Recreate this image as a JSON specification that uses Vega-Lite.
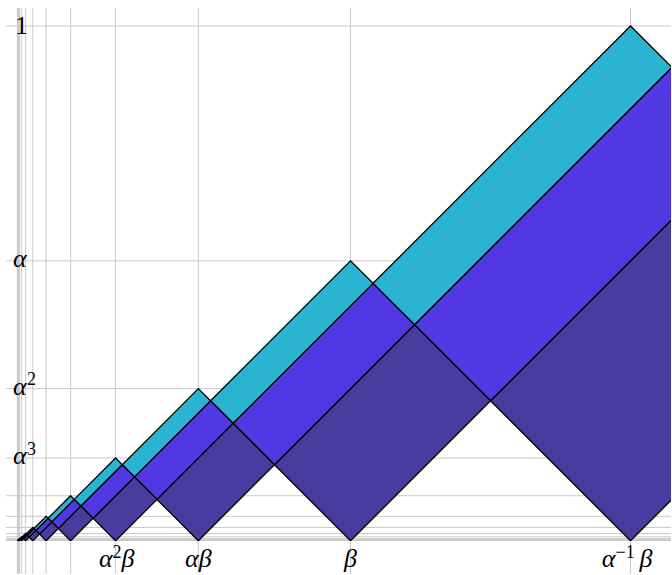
{
  "$schema": "https://vega.github.io/schema/vega-lite/v6.json",
  "width": 672,
  "height": 575,
  "autosize": {"type": "fit", "contains": "padding"},
  "padding": 0,
  "background": "white",
  "view": {"stroke": null},
  "datasets": {
    "vgrid": [{"v":1.19149},{"v":0.6478},{"v":0.3522},{"v":0.19149},{"v":0.10411},{"v":0.0566},{"v":0.03077},{"v":0.01673},{"v":0.0091},{"v":0.00495},{"v":0.00269},{"v":0.00146},{"v":0.0008}],
    "hgrid": [{"v":1},{"v":0.54369},{"v":0.2956},{"v":0.16071},{"v":0.08738},{"v":0.04751},{"v":0.02583},{"v":0.01404},{"v":0.00763},{"v":0.00415},{"v":0.00226},{"v":0.00123},{"v":0.00067}],
    "poly": [
      {"id":"0d","b":"d","i":0,"x":1.19149,"y":0},{"id":"0d","b":"d","i":1,"x":1.69149,"y":0.5},{"id":"0d","b":"d","i":2,"x":1.41964,"y":0.77184},{"id":"0d","b":"d","i":3,"x":0.91964,"y":0.27184},{"id":"0d","b":"d","i":4,"x":1.19149,"y":0},
      {"id":"0b","b":"b","i":0,"x":0.91964,"y":0.27184},{"id":"0b","b":"b","i":1,"x":1.41964,"y":0.77184},{"id":"0b","b":"b","i":2,"x":1.27184,"y":0.91964},{"id":"0b","b":"b","i":3,"x":0.77184,"y":0.41964},{"id":"0b","b":"b","i":4,"x":0.91964,"y":0.27184},
      {"id":"0c","b":"c","i":0,"x":0.77184,"y":0.41964},{"id":"0c","b":"c","i":1,"x":1.27184,"y":0.91964},{"id":"0c","b":"c","i":2,"x":1.19149,"y":1},{"id":"0c","b":"c","i":3,"x":0.69149,"y":0.5},{"id":"0c","b":"c","i":4,"x":0.77184,"y":0.41964},

      {"id":"1d","b":"d","i":0,"x":0.6478,"y":0},{"id":"1d","b":"d","i":1,"x":0.91964,"y":0.27184},{"id":"1d","b":"d","i":2,"x":0.77184,"y":0.41964},{"id":"1d","b":"d","i":3,"x":0.5,"y":0.1478},{"id":"1d","b":"d","i":4,"x":0.6478,"y":0},
      {"id":"1b","b":"b","i":0,"x":0.5,"y":0.1478},{"id":"1b","b":"b","i":1,"x":0.77184,"y":0.41964},{"id":"1b","b":"b","i":2,"x":0.69149,"y":0.5},{"id":"1b","b":"b","i":3,"x":0.41964,"y":0.22816},{"id":"1b","b":"b","i":4,"x":0.5,"y":0.1478},
      {"id":"1c","b":"c","i":0,"x":0.41964,"y":0.22816},{"id":"1c","b":"c","i":1,"x":0.69149,"y":0.5},{"id":"1c","b":"c","i":2,"x":0.6478,"y":0.54369},{"id":"1c","b":"c","i":3,"x":0.37595,"y":0.27184},{"id":"1c","b":"c","i":4,"x":0.41964,"y":0.22816},

      {"id":"2d","b":"d","i":0,"x":0.3522,"y":0},{"id":"2d","b":"d","i":1,"x":0.5,"y":0.1478},{"id":"2d","b":"d","i":2,"x":0.41964,"y":0.22816},{"id":"2d","b":"d","i":3,"x":0.27184,"y":0.08036},{"id":"2d","b":"d","i":4,"x":0.3522,"y":0},
      {"id":"2b","b":"b","i":0,"x":0.27184,"y":0.08036},{"id":"2b","b":"b","i":1,"x":0.41964,"y":0.22816},{"id":"2b","b":"b","i":2,"x":0.37595,"y":0.27184},{"id":"2b","b":"b","i":3,"x":0.22816,"y":0.12405},{"id":"2b","b":"b","i":4,"x":0.27184,"y":0.08036},
      {"id":"2c","b":"c","i":0,"x":0.22816,"y":0.12405},{"id":"2c","b":"c","i":1,"x":0.37595,"y":0.27184},{"id":"2c","b":"c","i":2,"x":0.3522,"y":0.2956},{"id":"2c","b":"c","i":3,"x":0.2044,"y":0.1478},{"id":"2c","b":"c","i":4,"x":0.22816,"y":0.12405},

      {"id":"3d","b":"d","i":0,"x":0.19149,"y":0},{"id":"3d","b":"d","i":1,"x":0.27184,"y":0.08036},{"id":"3d","b":"d","i":2,"x":0.22816,"y":0.12405},{"id":"3d","b":"d","i":3,"x":0.1478,"y":0.04369},{"id":"3d","b":"d","i":4,"x":0.19149,"y":0},
      {"id":"3b","b":"b","i":0,"x":0.1478,"y":0.04369},{"id":"3b","b":"b","i":1,"x":0.22816,"y":0.12405},{"id":"3b","b":"b","i":2,"x":0.2044,"y":0.1478},{"id":"3b","b":"b","i":3,"x":0.12405,"y":0.06744},{"id":"3b","b":"b","i":4,"x":0.1478,"y":0.04369},
      {"id":"3c","b":"c","i":0,"x":0.12405,"y":0.06744},{"id":"3c","b":"c","i":1,"x":0.2044,"y":0.1478},{"id":"3c","b":"c","i":2,"x":0.19149,"y":0.16071},{"id":"3c","b":"c","i":3,"x":0.11113,"y":0.08036},{"id":"3c","b":"c","i":4,"x":0.12405,"y":0.06744},

      {"id":"4d","b":"d","i":0,"x":0.10411,"y":0},{"id":"4d","b":"d","i":1,"x":0.1478,"y":0.04369},{"id":"4d","b":"d","i":2,"x":0.12405,"y":0.06744},{"id":"4d","b":"d","i":3,"x":0.08036,"y":0.02375},{"id":"4d","b":"d","i":4,"x":0.10411,"y":0},
      {"id":"4b","b":"b","i":0,"x":0.08036,"y":0.02375},{"id":"4b","b":"b","i":1,"x":0.12405,"y":0.06744},{"id":"4b","b":"b","i":2,"x":0.11113,"y":0.08036},{"id":"4b","b":"b","i":3,"x":0.06744,"y":0.03667},{"id":"4b","b":"b","i":4,"x":0.08036,"y":0.02375},
      {"id":"4c","b":"c","i":0,"x":0.06744,"y":0.03667},{"id":"4c","b":"c","i":1,"x":0.11113,"y":0.08036},{"id":"4c","b":"c","i":2,"x":0.10411,"y":0.08738},{"id":"4c","b":"c","i":3,"x":0.06042,"y":0.04369},{"id":"4c","b":"c","i":4,"x":0.06744,"y":0.03667},

      {"id":"5d","b":"d","i":0,"x":0.0566,"y":0},{"id":"5d","b":"d","i":1,"x":0.08036,"y":0.02375},{"id":"5d","b":"d","i":2,"x":0.06744,"y":0.03667},{"id":"5d","b":"d","i":3,"x":0.04369,"y":0.01291},{"id":"5d","b":"d","i":4,"x":0.0566,"y":0},
      {"id":"5b","b":"b","i":0,"x":0.04369,"y":0.01291},{"id":"5b","b":"b","i":1,"x":0.06744,"y":0.03667},{"id":"5b","b":"b","i":2,"x":0.06042,"y":0.04369},{"id":"5b","b":"b","i":3,"x":0.03667,"y":0.01994},{"id":"5b","b":"b","i":4,"x":0.04369,"y":0.01291},
      {"id":"5c","b":"c","i":0,"x":0.03667,"y":0.01994},{"id":"5c","b":"c","i":1,"x":0.06042,"y":0.04369},{"id":"5c","b":"c","i":2,"x":0.0566,"y":0.04751},{"id":"5c","b":"c","i":3,"x":0.03285,"y":0.02375},{"id":"5c","b":"c","i":4,"x":0.03667,"y":0.01994},

      {"id":"6d","b":"d","i":0,"x":0.03077,"y":0},{"id":"6d","b":"d","i":1,"x":0.04369,"y":0.01291},{"id":"6d","b":"d","i":2,"x":0.03667,"y":0.01994},{"id":"6d","b":"d","i":3,"x":0.02375,"y":0.00702},{"id":"6d","b":"d","i":4,"x":0.03077,"y":0},
      {"id":"6b","b":"b","i":0,"x":0.02375,"y":0.00702},{"id":"6b","b":"b","i":1,"x":0.03667,"y":0.01994},{"id":"6b","b":"b","i":2,"x":0.03285,"y":0.02375},{"id":"6b","b":"b","i":3,"x":0.01994,"y":0.01084},{"id":"6b","b":"b","i":4,"x":0.02375,"y":0.00702},
      {"id":"6c","b":"c","i":0,"x":0.01994,"y":0.01084},{"id":"6c","b":"c","i":1,"x":0.03285,"y":0.02375},{"id":"6c","b":"c","i":2,"x":0.03077,"y":0.02583},{"id":"6c","b":"c","i":3,"x":0.01786,"y":0.01291},{"id":"6c","b":"c","i":4,"x":0.01994,"y":0.01084},

      {"id":"7d","b":"d","i":0,"x":0.01673,"y":0},{"id":"7d","b":"d","i":1,"x":0.02375,"y":0.00702},{"id":"7d","b":"d","i":2,"x":0.01994,"y":0.01084},{"id":"7d","b":"d","i":3,"x":0.01291,"y":0.00382},{"id":"7d","b":"d","i":4,"x":0.01673,"y":0},
      {"id":"7b","b":"b","i":0,"x":0.01291,"y":0.00382},{"id":"7b","b":"b","i":1,"x":0.01994,"y":0.01084},{"id":"7b","b":"b","i":2,"x":0.01786,"y":0.01291},{"id":"7b","b":"b","i":3,"x":0.01084,"y":0.00589},{"id":"7b","b":"b","i":4,"x":0.01291,"y":0.00382},
      {"id":"7c","b":"c","i":0,"x":0.01084,"y":0.00589},{"id":"7c","b":"c","i":1,"x":0.01786,"y":0.01291},{"id":"7c","b":"c","i":2,"x":0.01673,"y":0.01404},{"id":"7c","b":"c","i":3,"x":0.00971,"y":0.00702},{"id":"7c","b":"c","i":4,"x":0.01084,"y":0.00589},

      {"id":"8d","b":"d","i":0,"x":0.0091,"y":0},{"id":"8d","b":"d","i":1,"x":0.01291,"y":0.00382},{"id":"8d","b":"d","i":2,"x":0.01084,"y":0.00589},{"id":"8d","b":"d","i":3,"x":0.00702,"y":0.00208},{"id":"8d","b":"d","i":4,"x":0.0091,"y":0},
      {"id":"8b","b":"b","i":0,"x":0.00702,"y":0.00208},{"id":"8b","b":"b","i":1,"x":0.01084,"y":0.00589},{"id":"8b","b":"b","i":2,"x":0.00971,"y":0.00702},{"id":"8b","b":"b","i":3,"x":0.00589,"y":0.0032},{"id":"8b","b":"b","i":4,"x":0.00702,"y":0.00208},
      {"id":"8c","b":"c","i":0,"x":0.00589,"y":0.0032},{"id":"8c","b":"c","i":1,"x":0.00971,"y":0.00702},{"id":"8c","b":"c","i":2,"x":0.0091,"y":0.00763},{"id":"8c","b":"c","i":3,"x":0.00528,"y":0.00382},{"id":"8c","b":"c","i":4,"x":0.00589,"y":0.0032},

      {"id":"9d","b":"d","i":0,"x":0.00495,"y":0},{"id":"9d","b":"d","i":1,"x":0.00702,"y":0.00208},{"id":"9d","b":"d","i":2,"x":0.00589,"y":0.0032},{"id":"9d","b":"d","i":3,"x":0.00382,"y":0.00113},{"id":"9d","b":"d","i":4,"x":0.00495,"y":0},
      {"id":"9b","b":"b","i":0,"x":0.00382,"y":0.00113},{"id":"9b","b":"b","i":1,"x":0.00589,"y":0.0032},{"id":"9b","b":"b","i":2,"x":0.00528,"y":0.00382},{"id":"9b","b":"b","i":3,"x":0.0032,"y":0.00174},{"id":"9b","b":"b","i":4,"x":0.00382,"y":0.00113},
      {"id":"9c","b":"c","i":0,"x":0.0032,"y":0.00174},{"id":"9c","b":"c","i":1,"x":0.00528,"y":0.00382},{"id":"9c","b":"c","i":2,"x":0.00495,"y":0.00415},{"id":"9c","b":"c","i":3,"x":0.00287,"y":0.00208},{"id":"9c","b":"c","i":4,"x":0.0032,"y":0.00174},

      {"id":"10d","b":"d","i":0,"x":0.00269,"y":0},{"id":"10d","b":"d","i":1,"x":0.00382,"y":0.00113},{"id":"10d","b":"d","i":2,"x":0.0032,"y":0.00174},{"id":"10d","b":"d","i":3,"x":0.00208,"y":0.00061},{"id":"10d","b":"d","i":4,"x":0.00269,"y":0},
      {"id":"10b","b":"b","i":0,"x":0.00208,"y":0.00061},{"id":"10b","b":"b","i":1,"x":0.0032,"y":0.00174},{"id":"10b","b":"b","i":2,"x":0.00287,"y":0.00208},{"id":"10b","b":"b","i":3,"x":0.00174,"y":0.00095},{"id":"10b","b":"b","i":4,"x":0.00208,"y":0.00061},
      {"id":"10c","b":"c","i":0,"x":0.00174,"y":0.00095},{"id":"10c","b":"c","i":1,"x":0.00287,"y":0.00208},{"id":"10c","b":"c","i":2,"x":0.00269,"y":0.00226},{"id":"10c","b":"c","i":3,"x":0.00156,"y":0.00113},{"id":"10c","b":"c","i":4,"x":0.00174,"y":0.00095}
    ]
  },
  "layer": [
    {
      "data": {"name": "vgrid"},
      "mark": {"type": "rule", "color": "#c9c9c9", "strokeWidth": 1},
      "encoding": {
        "x": {"field": "v", "type": "quantitative", "scale": {"domain": [-0.032965, 1.270118], "nice": false, "zero": false}, "axis": null},
        "y": {"datum": 1.03491, "type": "quantitative", "scale": {"domain": [-0.064572, 1.050417], "nice": false, "zero": false}, "axis": null},
        "y2": {"datum": -0.064572}
      }
    },
    {
      "data": {"name": "hgrid"},
      "mark": {"type": "rule", "color": "#c9c9c9", "strokeWidth": 1},
      "encoding": {
        "y": {"field": "v", "type": "quantitative", "scale": {"domain": [-0.064572, 1.050417], "nice": false, "zero": false}, "axis": null},
        "x": {"datum": -0.02133, "type": "quantitative", "scale": {"domain": [-0.032965, 1.270118], "nice": false, "zero": false}, "axis": null},
        "x2": {"datum": 1.270118}
      }
    },
    {
      "data": {"name": "poly"},
      "mark": {"type": "line", "clip": true, "stroke": "black", "strokeWidth": 1.3, "strokeJoin": "miter", "interpolate": "linear"},
      "encoding": {
        "x": {"field": "x", "type": "quantitative", "scale": {"domain": [-0.032965, 1.270118], "nice": false, "zero": false}, "axis": null},
        "y": {"field": "y", "type": "quantitative", "scale": {"domain": [-0.064572, 1.050417], "nice": false, "zero": false}, "axis": null},
        "order": {"field": "i", "type": "quantitative"},
        "detail": {"field": "id", "type": "nominal"},
        "fill": {"field": "b", "type": "nominal", "scale": {"domain": ["c", "b", "d"], "range": ["#2ab4d1", "#5038e2", "#483c9f"]}, "legend": null}
      }
    },
    {
      "data": {"values": [{"t":"αβ","v":0.3522},{"t":"β","v":0.6478}]},
      "mark": {"type": "text", "font": "Liberation Serif", "fontStyle": "italic", "fontSize": 26, "align": "center", "baseline": "alphabetic", "color": "black"},
      "encoding": {
        "x": {"field": "v", "type": "quantitative", "scale": {"domain": [-0.032965, 1.270118], "nice": false, "zero": false}, "axis": null},
        "y": {"datum": -0.051, "type": "quantitative", "scale": {"domain": [-0.064572, 1.050417], "nice": false, "zero": false}, "axis": null},
        "text": {"field": "t"}
      }
    },
    {
      "data": {"values": [{"t":"α","v":0.19149}]},
      "mark": {"type": "text", "font": "Liberation Serif", "fontStyle": "italic", "fontSize": 26, "align": "right", "baseline": "alphabetic", "dx": -3, "color": "black"},
      "encoding": {
        "x": {"field": "v", "type": "quantitative", "scale": {"domain": [-0.032965, 1.270118], "nice": false, "zero": false}, "axis": null},
        "y": {"datum": -0.051, "type": "quantitative", "scale": {"domain": [-0.064572, 1.050417], "nice": false, "zero": false}, "axis": null},
        "text": {"field": "t"}
      }
    },
    {
      "data": {"values": [{"t":"2","v":0.19149}]},
      "mark": {"type": "text", "font": "Liberation Serif", "fontSize": 18, "align": "left", "baseline": "alphabetic", "dx": -3, "dy": -9.5, "color": "black"},
      "encoding": {
        "x": {"field": "v", "type": "quantitative", "scale": {"domain": [-0.032965, 1.270118], "nice": false, "zero": false}, "axis": null},
        "y": {"datum": -0.051, "type": "quantitative", "scale": {"domain": [-0.064572, 1.050417], "nice": false, "zero": false}, "axis": null},
        "text": {"field": "t"}
      }
    },
    {
      "data": {"values": [{"t":"β","v":0.19149}]},
      "mark": {"type": "text", "font": "Liberation Serif", "fontStyle": "italic", "fontSize": 26, "align": "left", "baseline": "alphabetic", "dx": 6, "color": "black"},
      "encoding": {
        "x": {"field": "v", "type": "quantitative", "scale": {"domain": [-0.032965, 1.270118], "nice": false, "zero": false}, "axis": null},
        "y": {"datum": -0.051, "type": "quantitative", "scale": {"domain": [-0.064572, 1.050417], "nice": false, "zero": false}, "axis": null},
        "text": {"field": "t"}
      }
    },
    {
      "data": {"values": [{"t":"α","v":1.19149}]},
      "mark": {"type": "text", "font": "Liberation Serif", "fontStyle": "italic", "fontSize": 26, "align": "right", "baseline": "alphabetic", "dx": -15, "color": "black"},
      "encoding": {
        "x": {"field": "v", "type": "quantitative", "scale": {"domain": [-0.032965, 1.270118], "nice": false, "zero": false}, "axis": null},
        "y": {"datum": -0.051, "type": "quantitative", "scale": {"domain": [-0.064572, 1.050417], "nice": false, "zero": false}, "axis": null},
        "text": {"field": "t"}
      }
    },
    {
      "data": {"values": [{"t":"−1","v":1.19149}]},
      "mark": {"type": "text", "font": "Liberation Serif", "fontSize": 18, "align": "left", "baseline": "alphabetic", "dx": -15, "dy": -9.5, "color": "black"},
      "encoding": {
        "x": {"field": "v", "type": "quantitative", "scale": {"domain": [-0.032965, 1.270118], "nice": false, "zero": false}, "axis": null},
        "y": {"datum": -0.051, "type": "quantitative", "scale": {"domain": [-0.064572, 1.050417], "nice": false, "zero": false}, "axis": null},
        "text": {"field": "t"}
      }
    },
    {
      "data": {"values": [{"t":"β","v":1.19149}]},
      "mark": {"type": "text", "font": "Liberation Serif", "fontStyle": "italic", "fontSize": 26, "align": "left", "baseline": "alphabetic", "dx": 9, "color": "black"},
      "encoding": {
        "x": {"field": "v", "type": "quantitative", "scale": {"domain": [-0.032965, 1.270118], "nice": false, "zero": false}, "axis": null},
        "y": {"datum": -0.051, "type": "quantitative", "scale": {"domain": [-0.064572, 1.050417], "nice": false, "zero": false}, "axis": null},
        "text": {"field": "t"}
      }
    },
    {
      "data": {"values": [{"t":"α","v":0.54369},{"t":"α","v":0.2956},{"t":"α","v":0.16071}]},
      "mark": {"type": "text", "font": "Liberation Serif", "fontStyle": "italic", "fontSize": 26, "align": "left", "baseline": "alphabetic", "dy": 6, "color": "black"},
      "encoding": {
        "y": {"field": "v", "type": "quantitative", "scale": {"domain": [-0.064572, 1.050417], "nice": false, "zero": false}, "axis": null},
        "x": {"datum": -0.0078, "type": "quantitative", "scale": {"domain": [-0.032965, 1.270118], "nice": false, "zero": false}, "axis": null},
        "text": {"field": "t"}
      }
    },
    {
      "data": {"values": [{"t":"2","v":0.2956},{"t":"3","v":0.16071}]},
      "mark": {"type": "text", "font": "Liberation Serif", "fontSize": 18, "align": "left", "baseline": "alphabetic", "dx": 14, "dy": -3.5, "color": "black"},
      "encoding": {
        "y": {"field": "v", "type": "quantitative", "scale": {"domain": [-0.064572, 1.050417], "nice": false, "zero": false}, "axis": null},
        "x": {"datum": -0.0078, "type": "quantitative", "scale": {"domain": [-0.032965, 1.270118], "nice": false, "zero": false}, "axis": null},
        "text": {"field": "t"}
      }
    },
    {
      "data": {"values": [{"t":"1","v":1}]},
      "mark": {"type": "text", "font": "Liberation Serif", "fontSize": 26, "align": "left", "baseline": "alphabetic", "dx": 2, "dy": 8.5, "color": "black"},
      "encoding": {
        "y": {"field": "v", "type": "quantitative", "scale": {"domain": [-0.064572, 1.050417], "nice": false, "zero": false}, "axis": null},
        "x": {"datum": -0.0078, "type": "quantitative", "scale": {"domain": [-0.032965, 1.270118], "nice": false, "zero": false}, "axis": null},
        "text": {"field": "t"}
      }
    }
  ]
}
